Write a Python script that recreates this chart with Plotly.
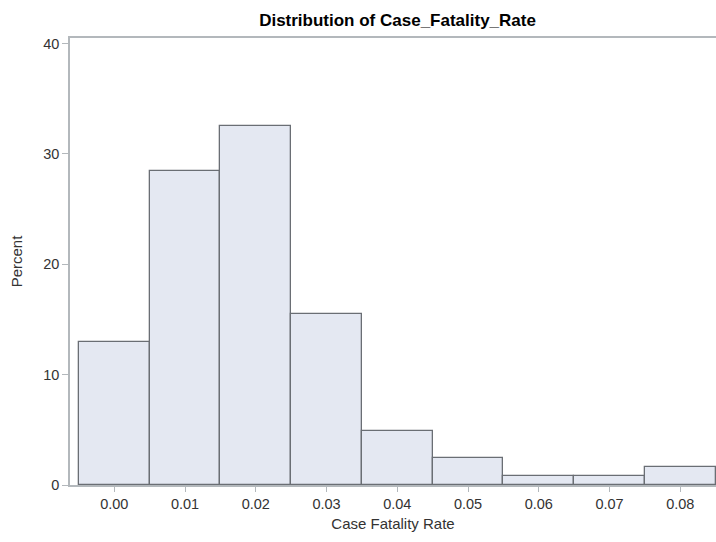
import plotly.graph_objects as go

bin_centers = [0.00, 0.01, 0.02, 0.03, 0.04, 0.05, 0.06, 0.07, 0.08]
percents = [13.0, 28.46, 32.52, 15.45, 4.88, 2.44, 0.81, 0.81, 1.63]
x_ticks = [0.00, 0.01, 0.02, 0.03, 0.04, 0.05, 0.06, 0.07, 0.08]
x_tick_labels = ["0.00", "0.01", "0.02", "0.03", "0.04", "0.05", "0.06", "0.07", "0.08"]
y_ticks = [0, 10, 20, 30, 40]

FONT = "Liberation Sans, Arial, sans-serif"
FRAME = "#b3b8bc"

fig = go.Figure(go.Bar(
    x=bin_centers, y=percents, width=0.01,
    marker=dict(color="#e4e8f2", line=dict(color="#6a6e74", width=1.3)),
    hoverinfo="x+y",
))

fig.update_layout(
    width=716, height=542,
    margin=dict(l=70, r=0, t=38, b=57),
    paper_bgcolor="white", plot_bgcolor="white",
    showlegend=False,
    title=dict(text="<b>Distribution of Case_Fatality_Rate</b>", x=0.507, xref="paper",
               xanchor="center", y=1 - 20/542, yanchor="middle",
               font=dict(family=FONT, size=17, color="black")),
    font=dict(family=FONT, color="#333"),
    bargap=0,
)
fig.update_xaxes(
    range=[-0.00626, 0.08505], tickvals=x_ticks, ticktext=x_tick_labels,
    showline=True, linecolor=FRAME, linewidth=1.5, mirror=True,
    ticks="outside", ticklen=5, tickcolor=FRAME, tickwidth=1,
    showgrid=False, zeroline=False,
    tickfont=dict(family=FONT, size=14.5, color="#333"),
    title=dict(text="Case Fatality Rate", font=dict(family=FONT, size=15, color="#333"), standoff=7),
)
fig.update_yaxes(
    range=[0, 40.5], tickvals=y_ticks,
    showline=True, linecolor=FRAME, linewidth=1.5,
    ticks="outside", ticklen=6, tickcolor=FRAME, tickwidth=1,
    showgrid=False, zeroline=False,
    tickfont=dict(family=FONT, size=14.5, color="#333"),
    title=dict(text="Percent", font=dict(family=FONT, size=15, color="#333"), standoff=17),
)

fig.write_html("out.html",
               config={"displayModeBar": False},
               post_script="document.body.style.margin='0';document.body.style.overflow='hidden';")
